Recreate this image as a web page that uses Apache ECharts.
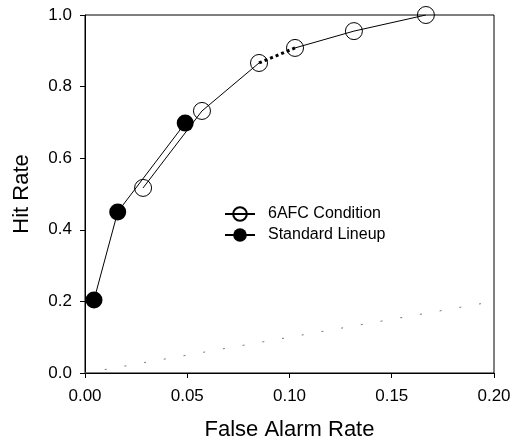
<!DOCTYPE html>
<html>
<head>
<meta charset="utf-8">
<script src="https://cdn.jsdelivr.net/npm/echarts@6/dist/echarts.min.js"></script>
<style>
  html, body { margin: 0; padding: 0; background: #fff; }
  #chart { width: 510px; height: 444px; }
</style>
</head>
<body>
<div id="chart"></div>
<script>
// data
const standardFA = [0.0044, 0.016, 0.049];
const standardHit = [0.204, 0.45, 0.698];
// 6AFC: solid up to 0.085, dotted to 0.102, solid after
const afcFA = [0.0284, 0.0572, 0.0851, 0.1027, 0.1315, 0.1667];
const afcHit = [0.517, 0.732, 0.866, 0.908, 0.955, 1.0];
const chanceFA = [0, 0.2];
const chanceHit = [0, 0.2];

const xTicks = { min: 0, max: 0.2, interval: 0.05 };
const yTicks = { min: 0, max: 1, interval: 0.2 };

function pairs(xs, ys) {
	return xs.map((x, i) => [x, ys[i]]);
}
let afc = pairs(afcFA, afcHit);

const FONT = 'Liberation Sans, Arial, sans-serif';

let openMarker = {
	symbol: 'circle',
	symbolSize: 17,
	itemStyle: { color: 'rgba(255,255,255,0)', borderColor: '#000', borderWidth: 1 }
};

let chart = echarts.init(document.getElementById('chart'), null, { renderer: 'canvas' });

let option = {
	animation: false,
	backgroundColor: '#fff',
	grid: {
		left: 85, right: 16, top: 15, bottom: 71,
		outerBoundsMode: 'none',
		containLabel: false,
		show: true, borderColor: '#000', borderWidth: 1
	},
	legend: {
		left: 219, top: 201,
		orient: 'vertical',
		itemWidth: 30, itemHeight: 17, itemGap: 5,
		textStyle: { fontFamily: FONT, fontSize: 16, color: '#000', padding: [0, 0, 0, 8] },
		data: ['6AFC Condition', 'Standard Lineup']
	},
	xAxis: {
		type: 'value',
		min: xTicks.min, max: xTicks.max, interval: xTicks.interval,
		name: 'False Alarm Rate',
		nameLocation: 'middle',
		nameGap: 46,
		nameTextStyle: { fontFamily: FONT, fontSize: 22, color: '#000' },
		axisLine: { lineStyle: { color: '#000', width: 1 } },
		axisTick: { show: true, length: 5, inside: false, lineStyle: { color: '#000' } },
		axisLabel: { fontFamily: FONT, fontSize: 17, color: '#000', margin: 15,
			formatter: v => v.toFixed(2) },
		splitLine: { show: false }
	},
	yAxis: {
		type: 'value',
		min: yTicks.min, max: yTicks.max, interval: yTicks.interval,
		name: 'Hit Rate',
		nameLocation: 'middle',
		nameGap: 52,
		nameTextStyle: { fontFamily: FONT, fontSize: 22, color: '#000' },
		axisLine: { show: true, lineStyle: { color: '#000', width: 1 } },
		axisTick: { show: true, length: 5, inside: false, lineStyle: { color: '#000' } },
		axisLabel: { fontFamily: FONT, fontSize: 17, color: '#000', margin: 13,
			formatter: v => v.toFixed(1) },
		splitLine: { show: false }
	},
	series: [
		{
			// chance diagonal
			name: 'chance',
			type: 'line',
			data: pairs(chanceFA, chanceHit),
			symbol: 'none',
			silent: true,
			lineStyle: { color: '#777', width: 1, type: [2, 18] },
			z: 1
		},
		{
			name: '6AFC Condition',
			type: 'line',
			data: afc.slice(0, 3),
			...openMarker,
			lineStyle: { color: '#000', width: 1 },
			z: 3
		},
		{
			name: '6AFC Condition',
			type: 'line',
			data: afc.slice(2, 4),
			symbol: 'none',
			lineStyle: { color: '#000', width: 3, type: [3, 3] },
			z: 2
		},
		{
			name: '6AFC Condition',
			type: 'line',
			data: afc.slice(3),
			...openMarker,
			lineStyle: { color: '#000', width: 1 },
			z: 3
		},
		{
			name: 'Standard Lineup',
			type: 'line',
			data: pairs(standardFA, standardHit),
			symbol: 'circle',
			symbolSize: 17,
			itemStyle: { color: '#000' },
			lineStyle: { color: '#000', width: 1 },
			z: 4
		}
	]
};

chart.setOption(option);
</script>
</body>
</html>
